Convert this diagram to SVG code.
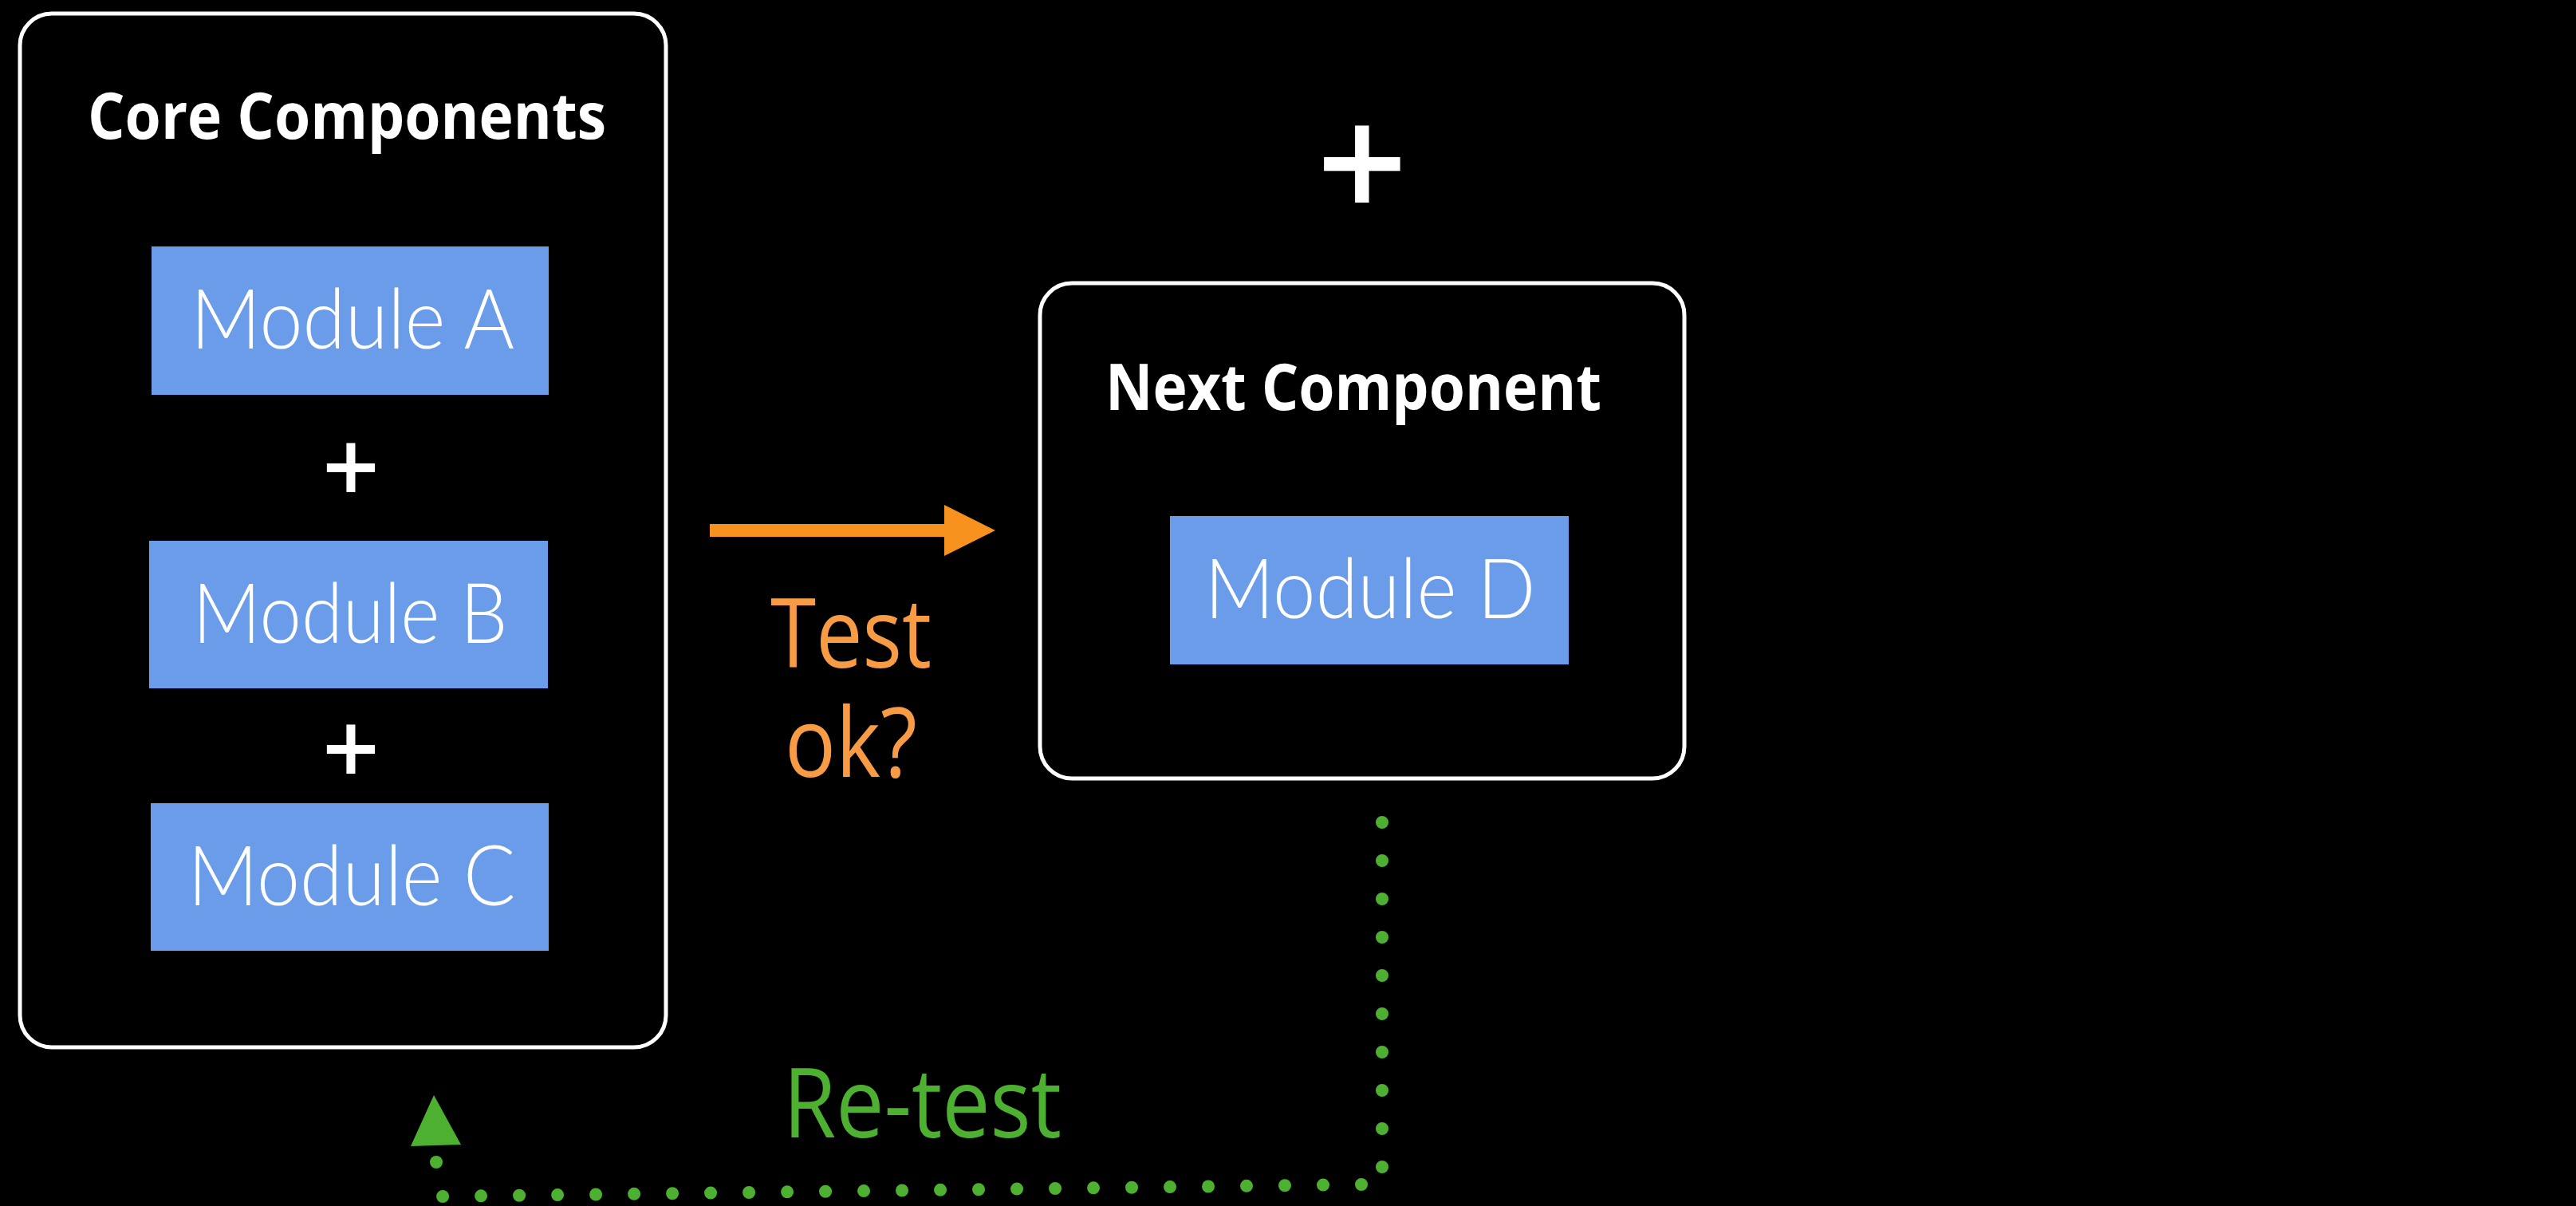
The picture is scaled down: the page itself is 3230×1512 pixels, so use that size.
<svg xmlns="http://www.w3.org/2000/svg" width="3230" height="1512" viewBox="0 0 3230 1512">
  <style>
    .frame { fill: #000; stroke: #fff; stroke-width: 5; }
    .module { fill: #6A9CE9; }
    .title { font-family: "Open Sans", "Liberation Sans", sans-serif; font-weight: 700; font-size: 80px; fill: #fff; text-anchor: middle; }
    .mlabel { font-family: "Lato", "Open Sans", sans-serif; font-weight: 300; font-size: 104px; fill: #fff; text-anchor: middle; }
    .plus { font-family: "Open Sans", "Liberation Sans", sans-serif; font-weight: 600; fill: #fff; text-anchor: middle; }
    .lbl { font-family: "Open Sans", "Liberation Sans", sans-serif; font-weight: 400; font-size: 120px; }
    .dots { fill: none; stroke: #4DB030; stroke-width: 16; stroke-linecap: round; }
  </style>
  <rect width="3230" height="1512" fill="#000"/>

  <!-- left container: core components -->
  <g id="core-components">
    <rect class="frame" x="25" y="17" width="810" height="1296" rx="40" ry="40"/>
    <text class="title" x="435" y="174" textLength="650" lengthAdjust="spacingAndGlyphs">Core Components</text>
  </g>
  <g id="module-a">
    <rect class="module" x="190" y="309" width="498" height="186"/>
    <text class="mlabel" x="442" y="437" textLength="406" lengthAdjust="spacingAndGlyphs">Module A</text>
  </g>
  <text id="plus-ab" class="plus" x="440" y="631" font-size="126">+</text>
  <g id="module-b">
    <rect class="module" x="187" y="678" width="500" height="185"/>
    <text class="mlabel" x="439" y="806" textLength="395" lengthAdjust="spacingAndGlyphs">Module B</text>
  </g>
  <text id="plus-bc" class="plus" x="440" y="984" font-size="126">+</text>
  <g id="module-c">
    <rect class="module" x="189" y="1007" width="499" height="185"/>
    <text class="mlabel" x="441" y="1135" textLength="411" lengthAdjust="spacingAndGlyphs">Module C</text>
  </g>

  <!-- plus above the next component -->
  <text id="plus-next" class="plus" x="1708" y="276" font-size="200">+</text>

  <!-- right container: next component -->
  <g id="next-component">
    <rect class="frame" x="1304" y="355" width="808" height="621" rx="40" ry="40"/>
    <text class="title" x="1697" y="514" textLength="622" lengthAdjust="spacingAndGlyphs">Next Component</text>
  </g>
  <g id="module-d">
    <rect class="module" x="1467" y="647" width="500" height="186"/>
    <text class="mlabel" x="1718" y="775" textLength="415" lengthAdjust="spacingAndGlyphs">Module D</text>
  </g>

  <!-- connectors -->
  <g id="connectors">
    <g id="test-arrow">
      <rect x="890" y="657" width="296" height="16" fill="#F7921E"/>
      <polygon points="1184,633 1248,665 1184,697" fill="#F7921E"/>
      <text class="lbl" fill="#F79B45" x="966" y="837" textLength="202" lengthAdjust="spacingAndGlyphs">Test</text>
      <text class="lbl" fill="#F79B45" x="984" y="974" textLength="166" lengthAdjust="spacingAndGlyphs">ok?</text>
    </g>
    <g id="retest-loop">
      <path class="dots" stroke-dasharray="0 48" d="M1733,1031 V1463.5"/>
      <path class="dots" stroke-dasharray="0 48" d="M1707,1485 L553,1500"/>
      <path class="dots" d="M547,1457 l0,0.01"/>
      <polygon points="544,1373 515,1437 578,1435" fill="#4DB030"/>
      <text class="lbl" fill="#4DB030" x="982" y="1426" textLength="349" lengthAdjust="spacingAndGlyphs">Re-test</text>
    </g>
  </g>
</svg>
